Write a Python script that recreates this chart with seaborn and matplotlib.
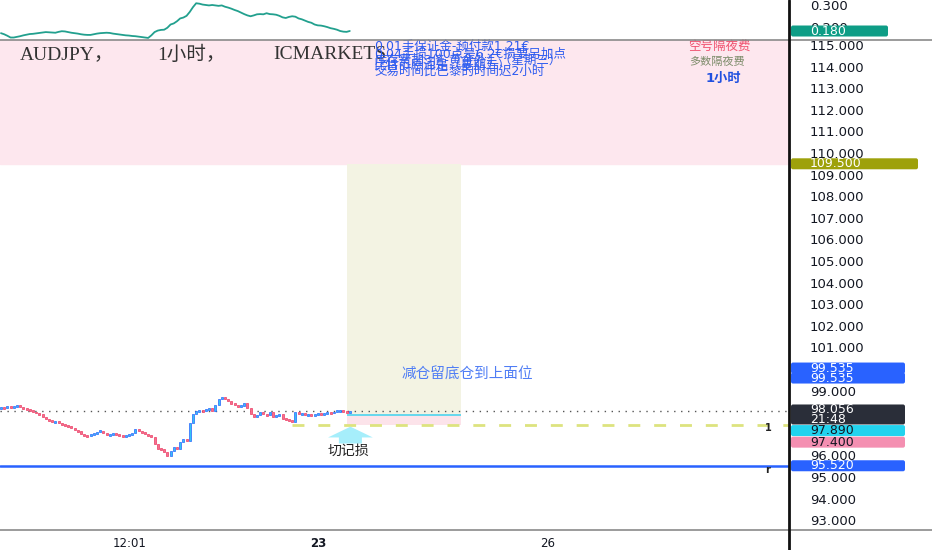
import numpy as np
import pandas as pd
import matplotlib
matplotlib.use('Agg')
import matplotlib.pyplot as plt
import seaborn as sns
from matplotlib.patches import FancyBboxPatch, Polygon
from matplotlib.lines import Line2D
from matplotlib.transforms import IdentityTransform

# AUDJPY 1小时 收盘价
closes = [98.22, 98.20, 98.24, 98.22, 98.28, 98.30, 98.25, 98.15, 98.12, 98.05,
          98.02, 97.95, 97.90, 97.78, 97.70, 97.62, 97.55, 97.58, 97.50, 97.45,
          97.40, 97.35, 97.25, 97.18, 97.12, 97.00, 96.92, 96.90, 96.95, 97.00,
          97.08, 97.15, 97.05, 96.95, 96.98, 97.02, 96.98, 96.90, 96.88, 96.92,
          96.95, 97.05, 97.20, 97.15, 97.05, 96.98, 96.95, 96.85, 96.55, 96.30,
          96.28, 96.15, 95.98, 96.20, 96.40, 96.30, 96.60, 96.78, 96.65, 97.50,
          97.92, 98.05, 98.10, 98.05, 98.12, 98.20, 98.05, 98.35, 98.60, 98.70,
          98.62, 98.50, 98.40, 98.35, 98.25, 98.30, 98.42, 98.20, 97.90, 97.80,
          97.85, 98.00, 97.92, 97.85, 98.02, 97.80, 97.85, 97.90, 97.70, 97.68,
          97.62, 97.55, 98.00, 97.90, 97.92, 97.88, 97.90, 97.86, 97.92, 97.95,
          97.90, 97.96, 98.00, 97.95, 98.02, 98.05, 98.08, 98.02, 97.96, 98.056]
first_open = 98.20

# 上方指标
osc = [0.170, 0.165, 0.158, 0.150, 0.150, 0.153, 0.156, 0.160, 0.163, 0.166,
       0.167, 0.169, 0.171, 0.173, 0.175, 0.174, 0.173, 0.172, 0.176, 0.179,
       0.178, 0.175, 0.172, 0.170, 0.168, 0.165, 0.163, 0.162, 0.162, 0.165,
       0.168, 0.170, 0.171, 0.172, 0.171, 0.168, 0.166, 0.164, 0.162, 0.160,
       0.159, 0.157, 0.156, 0.154, 0.152, 0.150, 0.148, 0.160, 0.175, 0.182,
       0.185, 0.186, 0.195, 0.210, 0.215, 0.225, 0.238, 0.242, 0.250, 0.268,
       0.290, 0.308, 0.306, 0.302, 0.300, 0.298, 0.300, 0.298, 0.296, 0.298,
       0.292, 0.288, 0.283, 0.277, 0.272, 0.265, 0.258, 0.252, 0.248, 0.252,
       0.257, 0.258, 0.257, 0.262, 0.258, 0.257, 0.255, 0.250, 0.243, 0.240,
       0.245, 0.248, 0.246, 0.238, 0.234, 0.228, 0.222, 0.218, 0.210, 0.206,
       0.205, 0.202, 0.198, 0.193, 0.190, 0.186, 0.180, 0.177, 0.176, 0.180]

# 可见的价格刻度 (97/98/100 被标签盖住)
price_ticks = [93, 94, 95, 96, 99] + list(range(101, 116))
osc_ticks = [0.2, 0.3]
time_labels = ['12:01', '23', '26']

last_price = 98.056
last_time = '21:48'
entry = 97.89
target = 109.5
stop = 97.4
blue_level = 95.52
blue_label = 99.535

info_lines = ['0.01手保证金-预付款1.21€',
              '0.04手损100点是6.2€损要另加点',
              '库存费加3倍-黄金外汇（星期三）',
              '比特币原油是（星期五）',
              '交易时间比巴黎的时间迟2小时']

df = pd.DataFrame({'close': closes, 'osc': osc})
df['open'] = df['close'].shift(1).fillna(first_open)
df['bar'] = np.arange(len(df))

sns.set_theme(style='white')
plt.rcParams['font.family'] = ['DejaVu Sans', 'Noto Sans CJK SC']

W, H = 932, 550
fig = plt.figure(figsize=(W / 100, H / 100), dpi=100)
fig.patch.set_facecolor('white')
ax_osc = fig.add_axes([0, 1 - 40 / H, 789 / W, 40 / H])
ax = fig.add_axes([0, 20 / H, 789 / W, 490 / H])

xmin, xmax = -0.3, 246.25
for a in (ax, ax_osc):
    a.set_xlim(xmin, xmax)
    for s in a.spines.values():
        s.set_visible(False)
    a.set_facecolor('none')
ax.set_ylim(92.546, 115.231)
ax_osc.set_ylim(0.1385, 0.323)

# 指标线
sns.lineplot(data=df, x='bar', y='osc', ax=ax_osc, color='#22a08e', lw=1.3)
ax_osc.set_xlabel('')
ax_osc.set_ylabel('')
ax_osc.set_xticks([])
ax_osc.yaxis.tick_right()
ax_osc.set_yticks(osc_ticks)
ax_osc.set_yticklabels([f'{v:.3f}' for v in osc_ticks])
ax_osc.tick_params(axis='y', length=0, pad=15, labelsize=9.5, colors='#131722')

# 背景区域
ax.axhspan(target, 116, color='#fde7ee', zorder=0)
ax.fill_between([108, 143.75], entry, target, color='#f3f3e3', zorder=0.5, lw=0)
ax.fill_between([108, 143.75], stop, entry, color='#fce3ea', zorder=0.5, lw=0)
ax.hlines(entry, 108, 143.75, color='#5ad6ee', lw=1.3, zorder=2)

ax.axhline(last_price, color='#555555', ls=(0, (1, 4)), lw=1, zorder=1)
ax.hlines(stop, 91, xmax, color='#dde37f', lw=2, ls=(0, (4.3, 5)), zorder=1)
ax.axhline(blue_level, color='#2962ff', lw=1.8, zorder=1)

# K线
for _, r in df.iterrows():
    o, c = r['open'], r['close']
    up = c >= o
    h = max(abs(c - o), 0.09)
    ax.bar(r['bar'], h, bottom=min(o, c) - (h - abs(c - o)) / 2, width=0.62,
           color='#33c4f2' if up else '#f5708e',
           edgecolor='#2962ff' if up else '#ec3a62', lw=0.5, zorder=3)

# 箭头 + 文字
ax.add_patch(Polygon([(109.2, 97.33), (102.2, 96.83), (105.6, 96.83), (105.6, 96.55),
                      (112.8, 96.55), (112.8, 96.83), (116.2, 96.83)],
                     closed=True, color='#a6eefb', lw=0, zorder=4))
ax.text(108.7, 96.22, '切记损', fontsize=10, color='#222222', ha='center', va='center')
ax.text(145.8, 99.77, '减仓留底仓到上面位', fontsize=10.5, color='#4f7df5', ha='center', va='center')
ax.text(239.7, 97.27, '1', fontsize=7, fontweight='bold', color='#222222', ha='center', va='center')
ax.text(239.7, 95.33, 'r', fontsize=7, fontweight='bold', color='#222222', ha='center', va='center')

serif = ['Liberation Serif', 'Noto Sans CJK SC']
ax.text(6, 114.54, 'AUDJPY，', family=serif, fontsize=14, color='#333333', va='center')
ax.text(48.8, 114.54, '1小时，', family=serif, fontsize=14, color='#333333', va='center')
ax.text(85, 114.54, 'ICMARKETS', family=serif, fontsize=14, color='#333333', va='center')

for txt, yv in zip(info_lines, [114.95, 114.58, 114.31, 114.07, 113.80]):
    ax.text(116.6, yv, txt, fontsize=9, color='#2d5bf0', va='center')
ax.text(224.4, 114.95, '空号隔夜费', fontsize=9, color='#f0506e', ha='center', va='center')
ax.text(223.8, 114.21, '多数隔夜费', fontsize=8, color='#7d8c6a', ha='center', va='center')
ax.text(225.6, 113.43, '1小时', fontsize=9.5, fontweight='bold', color='#2050e0', ha='center', va='center')

# 坐标轴
ax.yaxis.tick_right()
ax.set_yticks(price_ticks)
ax.set_yticklabels([f'{v:.3f}' for v in price_ticks])
ax.tick_params(axis='y', length=0, pad=15, labelsize=9.5, colors='#131722')
ax.set_xticks([40.3, 99.1, 170.9])
ax.set_xticklabels(time_labels)
ax.tick_params(axis='x', length=0, pad=5, labelsize=8.5, colors='#131722')
ax.get_xticklabels()[1].set_fontweight('bold')

# 右侧价格标签
def tag(a, value, text, face, tcolor, dy=0, width=114, h=11, text2=None):
    y = a.transData.transform((0, value))[1] - dy
    hh = h if text2 is None else 2 * h - 2
    top = y + h / 2
    fig.add_artist(FancyBboxPatch((791, top - hh), width, hh,
                                  boxstyle='round,pad=0,rounding_size=2',
                                  transform=IdentityTransform(), fc=face, ec='none', zorder=10))
    fig.text(810, y, text, transform=IdentityTransform(), fontsize=9,
             color=tcolor, va='center', ha='left', zorder=11)
    if text2:
        fig.text(810, y - h + 1, text2, transform=IdentityTransform(), fontsize=9,
                 color=tcolor, va='center', ha='left', zorder=11)

tag(ax_osc, osc[-1], f'{osc[-1]:.3f}', '#0e9d86', 'white', width=97)
tag(ax, target, f'{target:.3f}', '#9ea10b', 'white', width=127)
tag(ax, blue_label, f'{blue_label:.3f}', '#2962ff', 'white', dy=-11)
tag(ax, blue_label, f'{blue_label:.3f}', '#2962ff', 'white', dy=-1)
tag(ax, last_price, f'{last_price:.3f}', '#2a2e39', 'white', dy=-1, text2=last_time)
tag(ax, entry, f'{entry:.3f}', '#22d3ee', '#131722', dy=16)
tag(ax, stop, f'{stop:.3f}', '#f48fb1', '#131722', dy=17)
tag(ax, blue_level, f'{blue_level:.3f}', '#2962ff', 'white')

# 分隔线
fig.add_artist(Line2D([0, W], [H - 40, H - 40], transform=IdentityTransform(), color='#8a8a8a', lw=1.2))
fig.add_artist(Line2D([0, W], [20, 20], transform=IdentityTransform(), color='#8a8a8a', lw=1.2))
fig.add_artist(Line2D([789, 789], [0, H], transform=IdentityTransform(), color='#111111', lw=2))

fig.savefig('out.png', dpi=100)
